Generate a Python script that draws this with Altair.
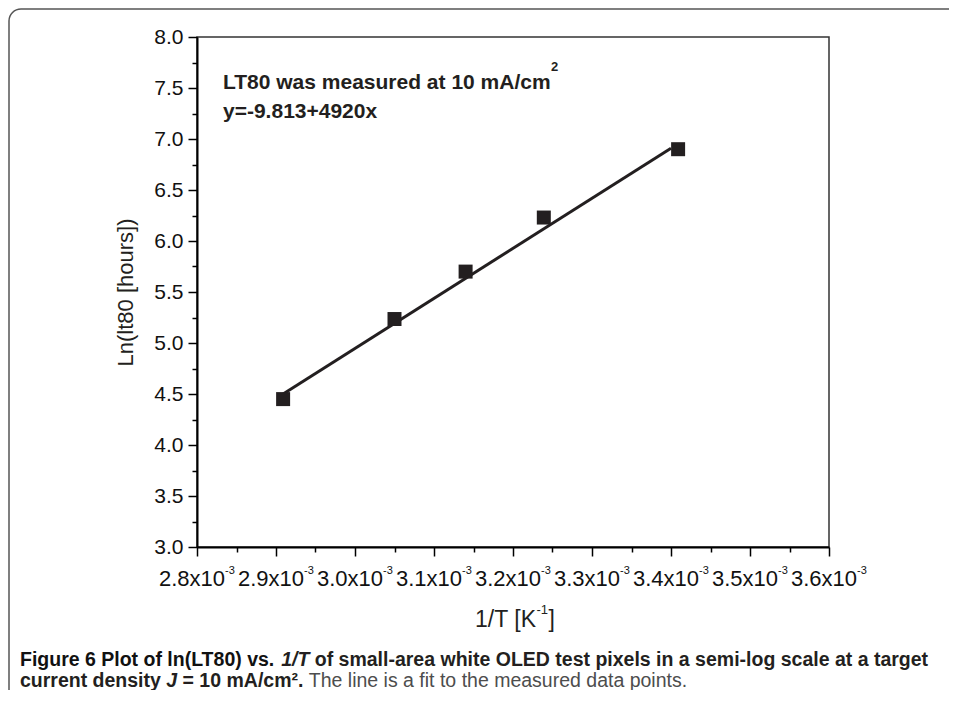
import altair as alt
import pandas as pd

# ---- data ----
inv_T = [0.002909, 0.003050, 0.003140, 0.003239, 0.003409]
ln_lt80 = [4.45, 5.235, 5.70, 6.23, 6.90]

fit_x = [0.002905, 0.003400]
fit_y = [4.48, 6.91]

x_major = [0.0028, 0.0029, 0.0030, 0.0031, 0.0032, 0.0033, 0.0034, 0.0035, 0.0036]
x_major_base = ["2.8x10", "2.9x10", "3.0x10", "3.1x10", "3.2x10", "3.3x10", "3.4x10", "3.5x10", "3.6x10"]
x_major_exp = ["-3"] * 9
x_minor = [0.00285, 0.00295, 0.00305, 0.00315, 0.00325, 0.00335, 0.00345, 0.00355]
y_major = [3.0, 3.5, 4.0, 4.5, 5.0, 5.5, 6.0, 6.5, 7.0, 7.5, 8.0]
y_minor = [3.25, 3.75, 4.25, 4.75, 5.25, 5.75, 6.25, 6.75, 7.25, 7.75]

annot_lines = ["LT80 was measured at 10 mA/cm", "y=-9.813+4920x"]
annot_sup = ["2"]
x_title_parts = ["1/T [K", "-1", "]"]
y_title = "Ln(lt80 [hours])"
cap1_parts = ["Figure 6 Plot of ln(LT80) vs.", "1/T",
              "of small-area white OLED test pixels in a semi-log scale at a target"]
cap2_parts = ["current density", "J", "= 10 mA/cm\u00b2.",
              "The line is a fit to the measured data points."]

W, H = 632, 510
FONT = "Liberation Sans, Arial, sans-serif"
INK = "#231f20"
CAP = 19.5  # caption font size

xs = alt.Scale(domain=[0.0028, 0.0036], nice=False, zero=False)
ys = alt.Scale(domain=[3, 8], nice=False, zero=False)

pts_df = pd.DataFrame({"x": inv_T, "y": ln_lt80})
fit_df = pd.DataFrame({"x": fit_x, "y": fit_y})
xt_df = pd.DataFrame({"v": x_major, "base": x_major_base, "exp": x_major_exp})
one = pd.DataFrame({"k": [0]})

axes = alt.Chart(pts_df).mark_point(opacity=0).encode(
    x=alt.X("x:Q", scale=xs, axis=alt.Axis(
        values=x_major, labels=False, title=None, orient="bottom",
        tickSize=9, tickWidth=1.5, tickColor="black",
        domainColor="black", domainWidth=2, grid=False)),
    y=alt.Y("y:Q", scale=ys, axis=alt.Axis(
        values=y_major, format=".1f", orient="left",
        labelFont=FONT, labelFontSize=21, labelColor="#111111", labelPadding=5,
        tickSize=9, tickWidth=1.5, tickColor="black",
        domainColor="black", domainWidth=2, grid=False,
        title=y_title, titleFont=FONT, titleFontSize=22, titleFontWeight="normal",
        titleColor=INK, titlePadding=16)),
)

minor = alt.Chart(pts_df).mark_point(opacity=0).encode(
    x=alt.X("x:Q", scale=xs, axis=alt.Axis(
        values=x_minor, labels=False, title=None, orient="bottom", domain=False,
        tickSize=5, tickWidth=1.5, tickColor="black", grid=False)),
    y=alt.Y("y:Q", scale=ys, axis=alt.Axis(
        values=y_minor, labels=False, title=None, orient="left", domain=False,
        tickSize=5, tickWidth=1.5, tickColor="black", grid=False)),
)

fit = alt.Chart(fit_df).mark_line(color=INK, strokeWidth=3).encode(
    x=alt.X("x:Q", scale=xs, axis=None),
    y=alt.Y("y:Q", scale=ys, axis=None),
)

pts = alt.Chart(pts_df).mark_square(size=196, color=INK, opacity=1).encode(
    x=alt.X("x:Q", scale=xs, axis=None),
    y=alt.Y("y:Q", scale=ys, axis=None),
)

xlab = alt.Chart(xt_df).mark_text(align="right", baseline="alphabetic", dx=28,
                                  fontSize=22, font=FONT, color="#111111").encode(
    x=alt.X("v:Q", scale=xs, axis=None), y=alt.value(H + 39), text="base:N")
xexp = alt.Chart(xt_df).mark_text(align="left", baseline="alphabetic", dx=28,
                                  fontSize=11, font=FONT, color="#111111").encode(
    x=alt.X("v:Q", scale=xs, axis=None), y=alt.value(H + 27), text="exp:N")


def txt(s, x, y, size, weight="normal", style="normal", color=INK, align="left"):
    return alt.Chart(one).mark_text(align=align, baseline="alphabetic", fontSize=size,
                                    fontWeight=weight, fontStyle=style, font=FONT,
                                    color=color, text=s).encode(
        x=alt.value(x), y=alt.value(y))


# x-axis title with superscript
xt1 = txt(x_title_parts[0], W / 2 + 23, 590, 23, align="right")
xt2 = txt(x_title_parts[1], W / 2 + 23.5, 577, 13)
xt3 = txt(x_title_parts[2], W / 2 + 35.5, 590, 23)

# annotation
an1 = txt(annot_lines[0], 26, 52, 21, weight="bold")
an1s = txt(annot_sup[0], 354, 34, 13, weight="bold")
an2 = txt(annot_lines[1], 26, 81, 21, weight="bold")

# figure caption (em offsets from Arial/Liberation metrics)
CX = -177
Y1, Y2 = 629, 650
c1a = txt(cap1_parts[0], CX, Y1, CAP, weight="bold", color="#111111")
c1b = txt(cap1_parts[1], CX + 13.392 * CAP, Y1, CAP, weight="bold", style="italic")
c1c = txt(cap1_parts[2], CX + 15.115 * CAP, Y1, CAP, weight="bold")
c2a = txt(cap2_parts[0], CX, Y2, CAP, weight="bold")
c2b = txt(cap2_parts[1], CX + 7.502 * CAP, Y2, CAP, weight="bold", style="italic")
c2c = txt(cap2_parts[2], CX + 8.336 * CAP, Y2, CAP, weight="bold")
c2d = txt(cap2_parts[3], CX + 14.811 * CAP, Y2, CAP, color="#4d4d4d")

frame = alt.Chart(one).mark_rect(fillOpacity=0, stroke="#555555", strokeWidth=1.5,
                                 cornerRadius=12).encode(
    x=alt.value(-188), y=alt.value(-28), x2=alt.value(1400), y2=alt.value(1200))

chart = alt.layer(
    frame, minor, axes, fit, pts, xlab, xexp, xt1, xt2, xt3, an1, an1s, an2,
    c1a, c1b, c1c, c2a, c2b, c2c, c2d
).resolve_axis(x="independent", y="independent").properties(
    width=W, height=H,
    autosize=alt.AutoSizeParams(type="none"),
    padding={"left": 189, "top": 29, "right": 120, "bottom": 143},
).configure_view(stroke="#333333", strokeWidth=1.5)

chart.save("out.html", embed_options={"renderer": "svg", "actions": False})
